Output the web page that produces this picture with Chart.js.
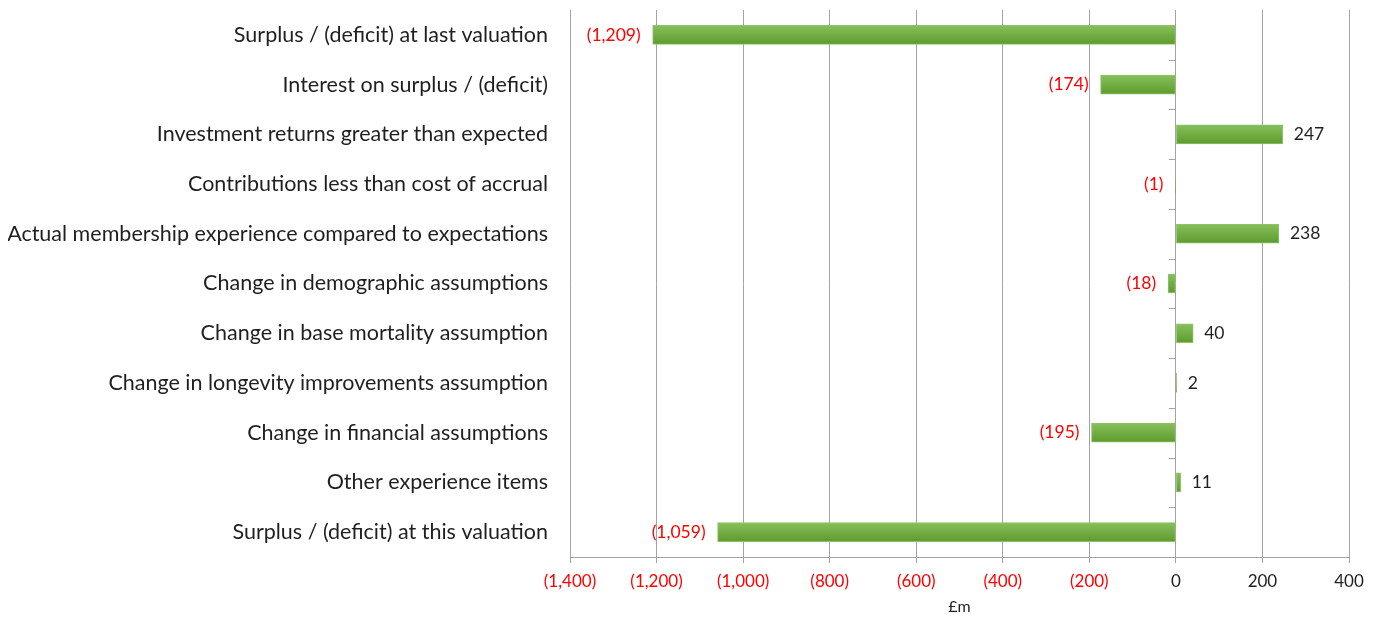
<!DOCTYPE html>
<html>
<head>
<meta charset="utf-8">
<style>
  html, body { margin: 0; padding: 0; background: #ffffff; }
  #wrap { width: 1376px; height: 617px; position: relative; }
</style>
<script src="https://cdn.jsdelivr.net/npm/chart.js@4.4.1/dist/chart.umd.min.js"></script>
</head>
<body>
<div id="wrap"><canvas id="chart" width="1376" height="617"></canvas></div>
<script>
// Movement in funding position between valuations (£m)
const categories = [
  'Surplus / (deficit) at last valuation',
  'Interest on surplus / (deficit)',
  'Investment returns greater than expected',
  'Contributions less than cost of accrual',
  'Actual membership experience compared to expectations',
  'Change in demographic assumptions',
  'Change in base mortality assumption',
  'Change in longevity improvements assumption',
  'Change in financial assumptions',
  'Other experience items',
  'Surplus / (deficit) at this valuation'
];
const values = [-1209, -174, 247, -1, 238, -18, 40, 2, -195, 11, -1059];
const axisMin = -1400;
const axisMax = 400;
const axisStep = 200;
const axisTitle = '£m';

const FONT = 'Lato, "Open Sans", sans-serif';
const RED = '#ff0000';
const DARK = '#1f1f1f';
const GRID = '#a3a3a3';

// Accounting style: negatives in brackets, thousands separated
function fmt(v) {
  const s = Math.abs(v).toLocaleString('en-GB');
  return v < 0 ? '(' + s + ')' : s;
}

// Vertical gradient for each bar, positioned from the category scale
function barFill(ctx) {
  const chart = ctx.chart;
  const yScale = chart.scales && chart.scales.y;
  if (!chart.chartArea || !yScale) return '#6aa83a';
  const yc = yScale.getPixelForValue(ctx.dataIndex);
  const g = chart.ctx.createLinearGradient(0, yc - 9, 0, yc + 9);
  g.addColorStop(0, '#86bf5a');
  g.addColorStop(1, '#5f9c2f');
  return g;
}

// Value labels beside the end of each bar
const valueLabels = {
  id: 'valueLabels',
  afterDatasetsDraw(chart) {
    const c = chart.ctx;
    const meta = chart.getDatasetMeta(0);
    c.save();
    c.font = '17.5px ' + FONT;
    c.textBaseline = 'middle';
    meta.data.forEach((bar, i) => {
      const v = values[i];
      if (v < 0) {
        c.fillStyle = RED;
        c.textAlign = 'right';
        c.fillText(fmt(v), bar.x - 12, bar.y);
      } else {
        c.fillStyle = DARK;
        c.textAlign = 'left';
        c.fillText(fmt(v), bar.x + 11, bar.y);
      }
    });
    c.restore();
  }
};

// Small category tick marks on the left of the zero line
const zeroTicks = {
  id: 'zeroTicks',
  afterDatasetsDraw(chart) {
    const c = chart.ctx;
    const x0 = chart.scales.x.getPixelForValue(0);
    const y = chart.scales.y;
    c.save();
    c.strokeStyle = GRID;
    c.lineWidth = 1;
    c.beginPath();
    for (let i = 0; i < categories.length - 1; i++) {
      const py = Math.round((y.getPixelForValue(i) + y.getPixelForValue(i + 1)) / 2) + 0.5;
      c.moveTo(x0 - 7, py);
      c.lineTo(x0, py);
    }
    c.stroke();
    c.restore();
  }
};

new Chart(document.getElementById('chart'), {
  type: 'bar',
  data: {
    labels: categories,
    datasets: [{
      data: values,
      backgroundColor: barFill,
      borderColor: '#8ec466',
      borderWidth: 1,
      borderSkipped: false,
      barThickness: 19
    }]
  },
  plugins: [valueLabels, zeroTicks],
  options: {
    indexAxis: 'y',
    responsive: false,
    animation: false,
    devicePixelRatio: 1,
    layout: { padding: { top: 10, right: 27, bottom: 0, left: 8 } },
    plugins: { legend: { display: false }, tooltip: { enabled: false } },
    scales: {
      x: {
        min: axisMin,
        max: axisMax,
        afterFit(scale) { scale.height = 60; },
        ticks: {
          stepSize: axisStep,
          padding: 8,
          font: { family: FONT, size: 17 },
          color: (ctx) => (ctx.tick && ctx.tick.value < 0 ? RED : DARK),
          callback: (v) => fmt(v)
        },
        grid: { color: GRID, lineWidth: 1, drawTicks: true, tickLength: 6, tickColor: GRID },
        border: { display: true, color: GRID },
        title: {
          display: true,
          text: axisTitle,
          color: DARK,
          font: { family: FONT, size: 16 },
          padding: { top: 2, bottom: 1 }
        }
      },
      y: {
        afterFit(scale) {
          scale.width = 562;
          scale.paddingTop = 0;
          scale.paddingBottom = 0;
        },
        ticks: {
          padding: 22,
          font: { family: FONT, size: 21.5 },
          color: DARK
        },
        grid: { display: false, drawTicks: false },
        border: { display: false }
      }
    }
  }
});
</script>
</body>
</html>
